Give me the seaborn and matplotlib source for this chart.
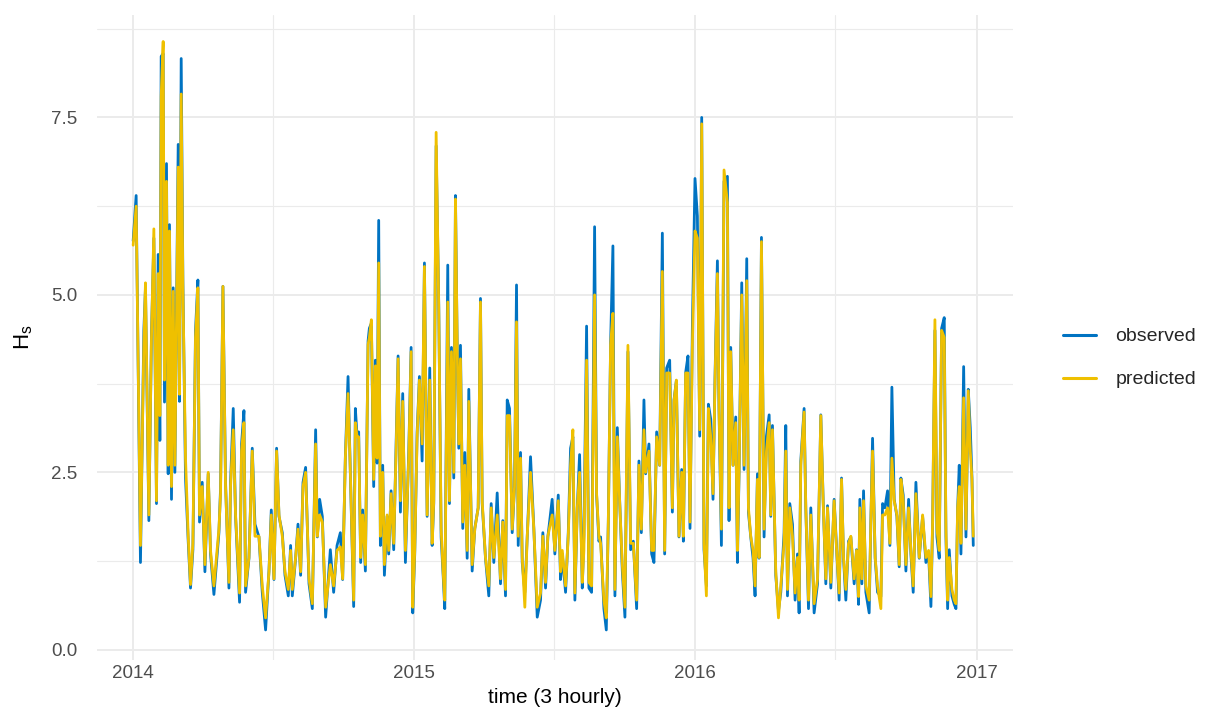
#!/usr/bin/env python3
"""
Observed vs predicted significant wave height (H_s), 3-hourly, 2014-2016.
Values read off the reference figure (envelope of peaks / troughs).
"""

import matplotlib
matplotlib.use("Agg")
import matplotlib.pyplot as plt
import matplotlib.dates as mdates
import matplotlib.ticker as mticker
import pandas as pd
import seaborn as sns

# ---------------------------------------------------------------------------
# Data  (days since 2014-01-01, observed H_s, predicted H_s)
# ---------------------------------------------------------------------------

START = pd.Timestamp("2014-01-01")

days = [
    0, 3.9, 9.5, 13.9, 16.0, 20.4, 23.8, 26.9, 30.3, 32.5, 34.7, 36.4, 39.0, 40.7,
    43.3, 45.5, 47.2, 49.8, 52.0, 54.2, 58.5, 60.2, 62.4, 64.6, 68.0, 71.5, 74.5,
    77.6, 81.0, 84.1, 86.2, 89.7, 93.2, 97.5, 100.5, 104.9, 111.4, 113.5, 116.6,
    120.0, 124.4, 126.5, 130.0, 133.0, 138.2, 140.8, 143.9, 146.0, 150.4, 154.7,
    158.2, 163.4, 167.7, 172.0, 176.4, 179.4, 182.9, 186.3, 189.4, 193.7, 197.2,
    201.5, 204.5, 206.7, 211.0, 214.1, 217.5, 220.6, 224.0, 228.4, 232.7, 237.0,
    239.2, 242.2, 245.7, 250.0,
    256.1, 260.4, 264.8, 269.1, 272.1, 275.6, 279.1, 282.1, 286.4, 288.6, 290.8,
    292.9, 295.5, 298.1, 301.6, 305.1, 306.8, 309.4, 312.4, 314.6, 316.8, 318.9,
    321.1, 324.1, 326.3, 329.8, 331.9, 335.0, 338.4, 341.5, 344.1, 347.1, 350.1,
    353.6, 357.9, 361.0, 363.1, 365.7, 368.8, 371.8, 375.3, 378.3, 381.8, 385.2,
    388.3, 390.4, 393.5, 396.9, 400.0, 402.6, 404.7, 408.6, 410.8, 413.4, 416.4,
    418.6, 420.8, 422.9, 425.1, 428.1, 430.7, 433.8, 435.9, 440.3, 443.7, 448.1,
    451.1, 453.3, 457.6, 461.9, 465.0, 468.4, 472.8, 477.1, 480.1, 483.6, 485.8,
    488.8, 492.3, 495.3, 497.9, 500.1, 503.1, 505.3, 508.7, 511.8, 516.1, 520.4,
    524.8, 529.1, 532.1, 535.6, 538.6, 544.2, 547.7,
    552.1, 555.1, 557.3, 561.6, 565.1, 568.1, 571.1, 573.7, 576.8, 579.8, 583.3,
    585.4, 588.9, 591.9, 595.4, 599.3, 601.9, 604.9, 607.1, 611.4, 614.5, 617.1,
    620.1, 623.1, 625.7, 628.8, 631.8, 635.3, 638.7, 642.6, 646.1, 649.6, 653.9,
    656.9, 660.0, 663.4, 665.6, 669.9, 673.4, 676.4, 679.9, 683.8, 687.3, 690.3,
    692.9, 696.8, 700.3, 702.4, 705.5, 708.9, 712.4, 714.6, 717.6, 720.6, 723.2,
    726.3, 729.7, 732.8, 735.8, 738.4, 741.4, 744.5, 747.1, 750.1, 753.1, 755.7,
    758.8, 760.9, 764.0, 767.4, 771.8, 773.9, 776.1, 779.1, 782.6, 784.8, 786.9,
    790.4, 793.4, 796.9, 799.1, 802.1, 805.1, 807.7, 810.8, 812.9, 816.0, 819.4,
    822.5, 826.0, 828.1, 830.3, 834.6, 838.1, 841.1, 845.4,
    847.6, 849.8, 852.8, 856.3, 859.7, 862.8, 864.9, 867.1, 871.4, 873.6, 877.1,
    880.1, 884.4, 888.8, 893.1, 896.1, 899.6, 901.8, 906.1, 910.4, 912.6, 916.9,
    920.0, 922.6, 925.6, 929.1, 932.1, 936.4, 939.5, 942.1, 943.8, 946.4, 948.6,
    951.6, 955.9, 958.1, 960.3, 963.7, 966.8, 971.1, 973.3, 976.3, 979.8, 982.8,
    985.4, 988.4, 991.9, 994.9, 997.1, 1000.1, 1003.6, 1007.1, 1010.1, 1013.1,
    1016.6, 1020.9, 1025.3, 1029.6, 1033.1, 1036.1, 1038.3, 1041.3, 1043.9,
    1046.9, 1050.0, 1053.4, 1055.6, 1057.8, 1059.9, 1063.4, 1066.4, 1068.6,
    1070.8, 1072.9, 1075.1, 1078.6, 1081.6, 1084.6, 1087.2, 1089.4, 1091.1,
]

observed = [
    5.76, 6.40, 1.23, 4.50, 5.10, 1.82, 4.44, 5.80, 2.06, 5.57, 2.95, 8.36, 8.40, 3.49,
    6.85, 2.48, 5.99, 2.12, 5.10, 2.50, 7.12, 3.50, 8.33, 5.20, 2.42, 1.53, 0.87,
    1.41, 4.50, 5.21, 1.80, 2.36, 1.10, 2.48, 1.35, 0.78, 1.65, 2.27, 5.12,
    2.36, 0.87, 2.36, 3.40, 1.88, 0.67, 2.90, 3.37, 0.81, 1.29, 2.84,
    1.77, 1.59, 0.81, 0.28, 1.11, 1.97, 0.99, 2.84, 1.88, 1.65, 1.05,
    0.76, 1.47, 0.76, 1.29, 1.77, 1.05, 2.36, 2.57, 0.93, 0.58, 3.10,
    1.59, 2.12, 1.88, 0.46,
    1.41, 0.81, 1.47, 1.65, 0.99, 2.72, 3.85, 2.48, 0.61, 3.40, 3.01,
    3.07, 1.23, 1.97, 1.11, 4.35, 4.53, 4.60, 2.30, 4.08, 2.63, 6.05,
    1.47, 2.60, 1.05, 1.88, 1.35, 2.24, 1.41, 2.90, 4.14, 1.94, 3.61,
    1.23, 2.78, 4.26, 0.52, 1.35, 3.07, 3.85, 2.66, 5.45, 1.88, 3.97,
    1.47, 2.06, 7.10, 4.86, 1.59, 1.05, 0.58, 5.42, 2.06, 4.26, 2.42,
    6.40, 4.32, 2.84, 4.29, 1.71, 2.78, 1.29, 3.67, 1.11, 1.71, 2.00,
    4.95, 2.06, 1.29, 0.76, 2.06, 1.23, 2.21, 0.93, 1.82, 0.76, 3.52,
    3.40, 1.65, 2.30, 5.14, 1.47, 2.78, 1.23, 0.81, 1.59, 2.72, 1.71,
    0.46, 0.70, 1.65, 0.87, 1.59, 2.12, 1.35,
    2.18, 0.99, 1.35, 0.81, 1.65, 2.84, 3.00, 0.70, 2.00, 2.75, 0.87,
    1.62, 4.56, 0.87, 0.81, 5.96, 2.18, 1.53, 1.59, 0.58, 0.28, 1.80,
    4.32, 5.69, 0.76, 3.13, 2.12, 1.11, 0.46, 4.20, 1.41, 1.53, 0.58,
    2.66, 1.65, 3.52, 2.48, 2.90, 1.35, 1.23, 3.07, 2.60, 5.87, 1.35,
    3.97, 4.08, 1.94, 3.52, 3.79, 1.59, 2.54, 1.53, 3.91, 4.14, 1.71,
    4.56, 6.64, 6.11, 3.01, 7.50, 1.41, 0.90, 3.46, 3.25, 2.12, 3.85,
    5.48, 3.37, 1.47, 6.60, 6.67, 1.82, 4.26, 2.60, 3.28, 1.23, 2.48,
    5.17, 2.54, 5.51, 1.94, 1.59, 1.29, 0.76, 2.48, 1.29, 5.81, 1.59,
    3.01, 3.31, 1.88, 3.16, 1.05, 0.55, 0.81, 1.65,
    3.16, 0.76, 2.06, 1.77, 0.70, 1.35, 0.52, 2.66, 3.40, 2.00, 0.58,
    2.00, 0.52, 0.93, 3.31, 2.12, 0.93, 2.03, 0.87, 2.12, 1.65, 0.70,
    2.42, 1.29, 0.70, 1.53, 1.59, 0.93, 1.41, 0.64, 2.12, 0.93, 2.24,
    0.81, 0.52, 1.82, 2.98, 1.29, 0.81, 0.75, 2.06, 2.00, 2.24, 1.47,
    3.70, 2.12, 1.88, 1.17, 2.42, 2.18, 1.11, 2.12, 1.35, 0.81,
    2.36, 1.29, 1.88, 1.23, 1.35, 0.61, 1.77, 4.50, 1.59,
    1.29, 4.53, 4.68, 1.59, 0.58, 1.41, 0.76, 0.64, 0.58,
    2.00, 2.60, 1.35, 3.99, 1.59, 3.67, 3.13, 2.42, 1.47,
]

predicted = [
    5.70, 6.25, 1.47, 4.30, 5.17, 1.90, 4.40, 5.93, 2.10, 5.30, 3.30, 7.80, 8.57, 3.80,
    6.60, 2.60, 5.90, 2.30, 5.05, 2.60, 6.80, 3.60, 7.83, 5.10, 2.70, 1.60, 0.92,
    1.50, 4.40, 5.10, 1.90, 2.30, 1.20, 2.50, 1.40, 0.90, 1.70, 2.20, 5.12,
    2.30, 0.95, 2.30, 3.10, 1.90, 0.80, 2.80, 3.20, 0.90, 1.30, 2.80,
    1.60, 1.60, 0.90, 0.45, 1.10, 1.90, 1.00, 2.80, 1.90, 1.60, 1.10,
    0.85, 1.40, 0.85, 1.30, 1.70, 1.10, 2.30, 2.50, 1.00, 0.65, 2.90,
    1.60, 1.90, 1.80, 0.60,
    1.20, 0.90, 1.40, 1.45, 1.00, 2.70, 3.61, 2.50, 0.70, 3.20, 3.00,
    3.00, 1.30, 1.90, 1.20, 4.30, 4.40, 4.65, 2.40, 4.00, 2.70, 5.45,
    1.60, 2.50, 1.20, 1.90, 1.40, 2.20, 1.50, 2.80, 4.10, 2.10, 3.50,
    1.40, 2.70, 4.20, 0.60, 1.40, 3.00, 3.80, 2.90, 5.40, 1.90, 3.80,
    1.50, 2.10, 7.29, 4.80, 1.70, 1.10, 0.70, 4.90, 2.10, 4.20, 2.50,
    6.35, 4.30, 2.90, 4.10, 1.80, 2.60, 1.40, 3.50, 1.20, 1.70, 2.00,
    4.90, 2.10, 1.30, 0.90, 2.00, 1.30, 1.90, 1.00, 1.80, 0.85, 3.30,
    3.30, 1.70, 2.30, 4.62, 1.60, 2.70, 1.30, 0.60, 1.60, 2.50, 1.70,
    0.60, 0.80, 1.60, 0.95, 1.60, 1.90, 1.40,
    2.10, 1.10, 1.40, 0.90, 1.60, 2.60, 3.10, 0.80, 2.00, 2.50, 0.95,
    1.40, 4.08, 0.95, 0.90, 5.00, 2.20, 1.60, 1.50, 0.70, 0.45, 1.80,
    4.30, 4.74, 0.85, 3.00, 2.10, 1.20, 0.60, 4.29, 1.50, 1.50, 0.70,
    2.60, 1.70, 3.10, 2.50, 2.80, 1.40, 1.40, 3.00, 2.60, 5.33, 1.40,
    3.90, 3.90, 2.00, 3.50, 3.80, 1.60, 2.50, 1.60, 3.90, 3.90, 1.80,
    4.30, 5.90, 5.80, 3.10, 7.41, 1.50, 0.76, 3.40, 3.00, 2.20, 3.80,
    5.30, 3.40, 1.70, 6.76, 6.30, 2.00, 4.20, 2.60, 3.20, 1.40, 2.50,
    5.00, 2.60, 5.20, 2.00, 1.60, 1.40, 0.90, 2.40, 1.30, 5.75, 1.70,
    2.80, 3.20, 1.90, 3.10, 1.10, 0.45, 0.90, 1.50,
    2.80, 0.85, 2.00, 1.60, 0.80, 1.30, 0.70, 2.60, 3.35, 2.00, 0.70,
    1.90, 0.65, 1.00, 3.30, 2.10, 1.00, 2.00, 0.95, 2.10, 1.60, 0.80,
    2.40, 1.30, 0.85, 1.50, 1.60, 1.00, 1.40, 0.75, 2.00, 1.00, 2.10,
    0.90, 0.70, 1.80, 2.80, 1.30, 0.90, 0.58, 1.90, 1.90, 2.00, 1.50,
    2.70, 2.10, 1.90, 1.20, 2.40, 2.10, 1.20, 2.00, 1.40, 0.90,
    2.20, 1.30, 1.90, 1.30, 1.40, 0.75, 1.80, 4.65, 1.70,
    1.40, 4.50, 4.40, 1.70, 0.70, 1.30, 0.85, 0.70, 0.65,
    2.00, 2.30, 1.50, 3.55, 1.70, 3.65, 2.80, 2.40, 1.60,
]

SERIES = ["observed", "predicted"]
COLORS = ["#0073C2", "#EFC000"]

# ---------------------------------------------------------------------------
# Long-form frame
# ---------------------------------------------------------------------------

time = START + pd.to_timedelta(days, unit="D")
df = pd.concat([
    pd.DataFrame({"time": time, "Hs": observed, "series": "observed"}),
    pd.DataFrame({"time": time, "Hs": predicted, "series": "predicted"}),
], ignore_index=True)

# ---------------------------------------------------------------------------
# Plot
# ---------------------------------------------------------------------------

sns.set_theme(style="white")
plt.rcParams["font.family"] = ["Liberation Sans", "DejaVu Sans"]
plt.rcParams["mathtext.fontset"] = "custom"
plt.rcParams["mathtext.rm"] = "Liberation Sans"

GRID = "#EBEBEB"
TXT = "#4D4D4D"

fig = plt.figure(figsize=(12.12, 7.25), dpi=100)
ax = fig.add_axes([0.080, 0.090, 0.756, 0.889])

sns.lineplot(
    data=df, x="time", y="Hs", hue="series", hue_order=SERIES,
    palette=COLORS, estimator=None, linewidth=2.0, ax=ax,
)

ax.set_xlim(pd.Timestamp("2013-11-15"), pd.Timestamp("2017-02-17"))
ax.set_ylim(-0.14, 8.94)

ax.xaxis.set_major_locator(mdates.YearLocator())
ax.xaxis.set_major_formatter(mdates.DateFormatter("%Y"))
ax.xaxis.set_minor_locator(mdates.MonthLocator(bymonth=7))
ax.yaxis.set_major_locator(mticker.MultipleLocator(2.5))
ax.yaxis.set_minor_locator(mticker.MultipleLocator(1.25))
ax.yaxis.set_major_formatter(mticker.FormatStrFormatter("%.1f"))

ax.grid(True, which="major", color=GRID, linewidth=1.4)
ax.grid(True, which="minor", color=GRID, linewidth=0.8)
ax.set_axisbelow(True)
for s in ax.spines.values():
    s.set_visible(False)
ax.tick_params(axis="both", which="both", length=0, labelsize=13.5, labelcolor=TXT)
ax.tick_params(axis="y", pad=14)
ax.tick_params(axis="x", pad=4)

ax.set_xlabel("time (3 hourly)", fontsize=15, color="black", labelpad=4)
ax.set_ylabel(r"$\mathrm{H}_\mathrm{s}$", fontsize=16, color="black", labelpad=12)

sns.move_legend(
    ax, "center left", bbox_to_anchor=(1.035, 0.468), frameon=False, title=None,
    fontsize=14, handlelength=1.7, handletextpad=1.0, labelspacing=1.3,
)
for line in ax.get_legend().get_lines():
    line.set_linewidth(2.2)

fig.savefig("out.png", dpi=100, facecolor="white")
plt.close(fig)
